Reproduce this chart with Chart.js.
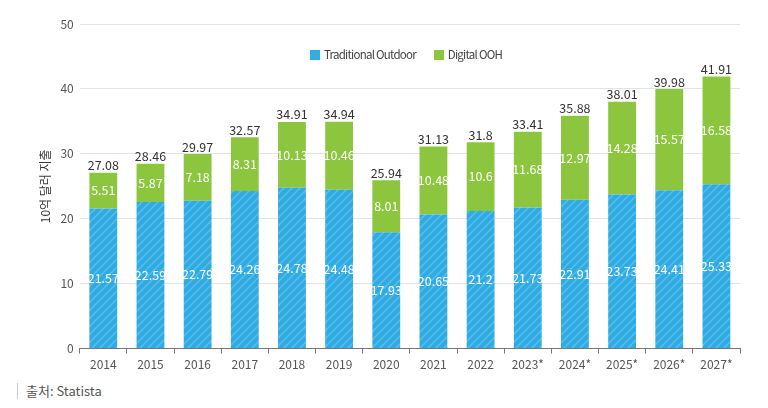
<!DOCTYPE html>
<html>
<head>
<meta charset="utf-8">
<script src="https://cdn.jsdelivr.net/npm/chart.js@4/dist/chart.umd.min.js"></script>
<style>
  html, body { margin: 0; padding: 0; background: #fff; }
  body { width: 768px; height: 408px; position: relative; overflow: hidden;
         font-family: "Noto Sans CJK KR", "Noto Sans", sans-serif; }
  #wrap { position: absolute; left: 0; top: 0; width: 768px; height: 376px; }
  #legend { position: absolute; top: 46px; left: 310px; white-space: nowrap;
            font-size: 11.5px; color: #444; letter-spacing: -0.75px; }
  #legend span.item { margin-right: 16px; }
  #legend span.box { display: inline-block; width: 10px; height: 10px; margin-right: 4px; vertical-align: -1px; }
  #source { position: absolute; left: 17px; top: 383px; font-size: 13px; color: #555;
            border-left: 1px solid #ccc; padding-left: 8px; line-height: 16px; }
</style>
</head>
<body>
<div id="wrap"><canvas id="chart"></canvas></div>
<div id="legend">
  <span class="item"><span class="box" style="background:#32ade6"></span>Traditional Outdoor</span>
  <span class="item"><span class="box" style="background:#8cc63f"></span>Digital OOH</span>
</div>
<div id="source">출처: Statista</div>
<script>
const years = ['2014', '2015', '2016', '2017', '2018', '2019', '2020', '2021', '2022', '2023*', '2024*', '2025*', '2026*', '2027*'];
const traditional = [21.57, 22.59, 22.79, 24.26, 24.78, 24.48, 17.93, 20.65, 21.2, 21.73, 22.91, 23.73, 24.41, 25.33];
const digital = [5.51, 5.87, 7.18, 8.31, 10.13, 10.46, 8.01, 10.48, 10.6, 11.68, 12.97, 14.28, 15.57, 16.58];
const totals = ['27.08', '28.46', '29.97', '32.57', '34.91', '34.94', '25.94', '31.13', '31.8', '33.41', '35.88', '38.01', '39.98', '41.91'];
const yTicks = [0, 10, 20, 30, 40, 50];

const FONT = '"Noto Sans CJK KR", "Noto Sans", sans-serif';

// diagonal stripe pattern for the blue bars
function stripePattern() {
    const c = document.createElement('canvas');
    c.width = 8; c.height = 8;
    const g = c.getContext('2d');
    g.fillStyle = '#2eabe3';
    g.fillRect(0, 0, 8, 8);
    g.strokeStyle = 'rgba(255,255,255,0.22)';
    g.lineWidth = 1.5;
    g.beginPath();
    g.moveTo(0, 8); g.lineTo(8, 0);
    g.moveTo(-4, 4); g.lineTo(4, -4);
    g.moveTo(4, 12); g.lineTo(12, 4);
    g.stroke();
    return g.createPattern(c, 'repeat');
}

const labelPlugin = {
    id: 'barLabels',
    afterDatasetsDraw(chart) {
        const ctx = chart.ctx;
        ctx.save();
        ctx.font = '12.5px ' + FONT;
        ctx.textAlign = 'center';
        ctx.textBaseline = 'middle';
        [0, 1].forEach(di => {
            const meta = chart.getDatasetMeta(di);
            const vals = chart.data.datasets[di].data;
            meta.data.forEach((bar, i) => {
                ctx.fillStyle = '#ffffff';
                ctx.fillText(String(vals[i]), bar.x, (bar.y + bar.base) / 2);
            });
        });
        const top = chart.getDatasetMeta(1);
        ctx.fillStyle = '#333';
        ctx.textBaseline = 'bottom';
        top.data.forEach((bar, i) => {
            ctx.fillText(totals[i], bar.x, bar.y - 1);
        });
        ctx.restore();
    }
};

const ctx = document.getElementById('chart').getContext('2d');
const chart = new Chart(ctx, {
    type: 'bar',
    data: {
        labels: years,
        datasets: [
            {
                label: 'Traditional Outdoor',
                data: traditional,
                backgroundColor: stripePattern(),
                categoryPercentage: 0.59,
                barPercentage: 1
            },
            {
                label: 'Digital OOH',
                data: digital,
                backgroundColor: '#8cc63f',
                categoryPercentage: 0.59,
                barPercentage: 1
            }
        ]
    },
    options: {
        responsive: true,
        maintainAspectRatio: false,
        animation: false,
        layout: { padding: { left: 38, right: 28, top: 24, bottom: 0 } },
        scales: {
            x: {
                stacked: true,
                grid: {
                    display: true,
                    drawOnChartArea: false,
                    drawTicks: true,
                    tickLength: 5,
                    offset: true,
                    color: '#777'
                },
                border: { display: true, color: '#777' },
                ticks: { color: '#555', font: { family: FONT, size: 12 }, padding: 4 }
            },
            y: {
                stacked: true,
                min: 0,
                max: 50,
                afterBuildTicks(axis) {
                    axis.ticks = yTicks.map(v => ({ value: v }));
                },
                grid: { color: '#e3e3e3', drawTicks: false },
                border: { display: false },
                ticks: { color: '#555', font: { family: FONT, size: 12 }, padding: 6 },
                title: {
                    display: true,
                    text: '10억 달러 지출',
                    color: '#333',
                    font: { family: FONT, size: 12 },
                    padding: { top: 0, bottom: 2 }
                }
            }
        },
        plugins: {
            legend: { display: false },
            tooltip: { enabled: false }
        }
    },
    plugins: [labelPlugin]
});
</script>
</body>
</html>
